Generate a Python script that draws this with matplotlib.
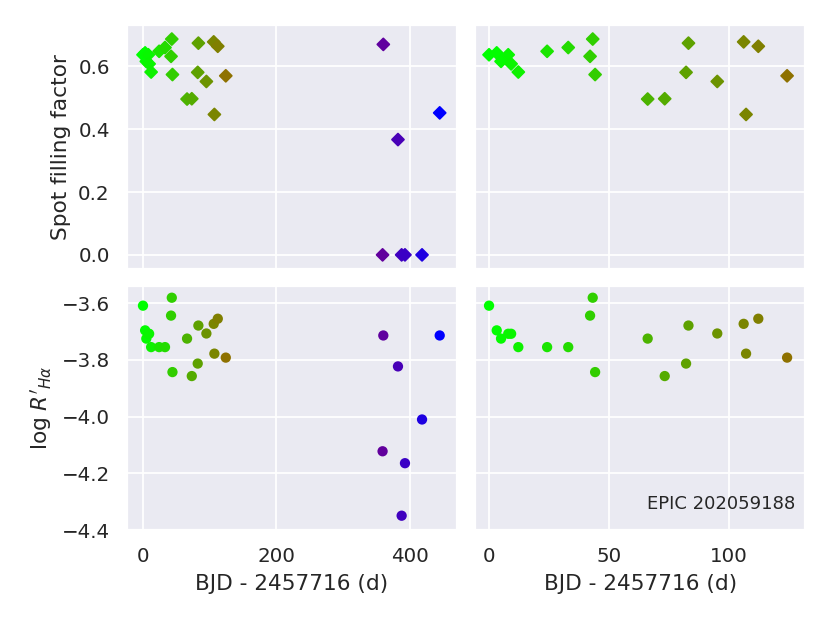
import matplotlib
matplotlib.use("Agg")
from matplotlib import pyplot as plt
from matplotlib.ticker import MultipleLocator
import seaborn as sns
import numpy as np

# time of each observation (BJD - 2457716)
days = [0.0, 3.2, 5.0, 8.0, 9.2, 12.2, 24.2, 33.0, 42.1, 43.2, 44.2,
        66.1, 73.2, 82.1, 83.1, 95.1, 106.1, 107.1, 112.2, 124.2,
        359.4, 360.5, 382.5, 388.0, 393.0, 418.6, 445.1]

# spot filling factor (diamonds, top row)
filling = [0.637, 0.643, 0.616, 0.637, 0.608, 0.582, 0.648, 0.660, 0.632, 0.687, 0.574,
           0.496, 0.497, 0.581, 0.674, 0.552, 0.678, 0.447, 0.664, 0.570,
           0.0, 0.670, 0.367, 0.0, 0.0, 0.0, 0.452]

# log R'_Halpha (circles, bottom row)
log_rha = [-3.609, -3.696, -3.725, -3.708, -3.708, -3.755, -3.755, -3.755, -3.644, -3.581, -3.843,
           -3.725, -3.857, -3.813, -3.679, -3.707, -3.673, -3.778, -3.655, -3.792,
           -4.122, -3.714, -3.823, -4.349, -4.164, -4.010, -3.714]

star = "EPIC 202059188"

sns.set_theme(style="darkgrid")

fig, axes = plt.subplots(2, 2, figsize=(830 / 130, 623 / 130), dpi=130,
                         sharex="col", sharey="row")
plt.subplots_adjust(left=0.153, right=0.970, bottom=0.149, top=0.960,
                    wspace=0.055, hspace=0.07)

# colour each point by its time, green -> red -> blue
cmap = plt.get_cmap("brg_r")
norm = plt.Normalize(min(days), max(days))
colours = cmap(norm(np.array(days)))

for col in range(2):
    axes[0, col].scatter(days, filling, c=colours, marker="D", s=22)
    axes[1, col].scatter(days, log_rha, c=colours, marker="o", s=22)
    axes[1, col].set_xlabel("BJD - 2457716 (d)")

axes[0, 0].set_xlim(-24, 471)
axes[0, 1].set_xlim(-5.8, 131.7)
axes[0, 0].xaxis.set_major_locator(MultipleLocator(200))
axes[0, 1].xaxis.set_major_locator(MultipleLocator(50))
axes[0, 0].set_ylim(-0.045, 0.732)
axes[1, 0].set_ylim(-4.40, -3.54)
axes[1, 0].set_yticks([-3.6, -3.8, -4.0, -4.2, -4.4])

axes[0, 0].set_ylabel("Spot filling factor")
axes[1, 0].set_ylabel(r"$\log\,R'_{H\alpha}$")

axes[1, 1].text(0.97, 0.07, star, transform=axes[1, 1].transAxes,
                ha="right", va="bottom", fontsize=10)

plt.savefig("out.png", dpi=130)
